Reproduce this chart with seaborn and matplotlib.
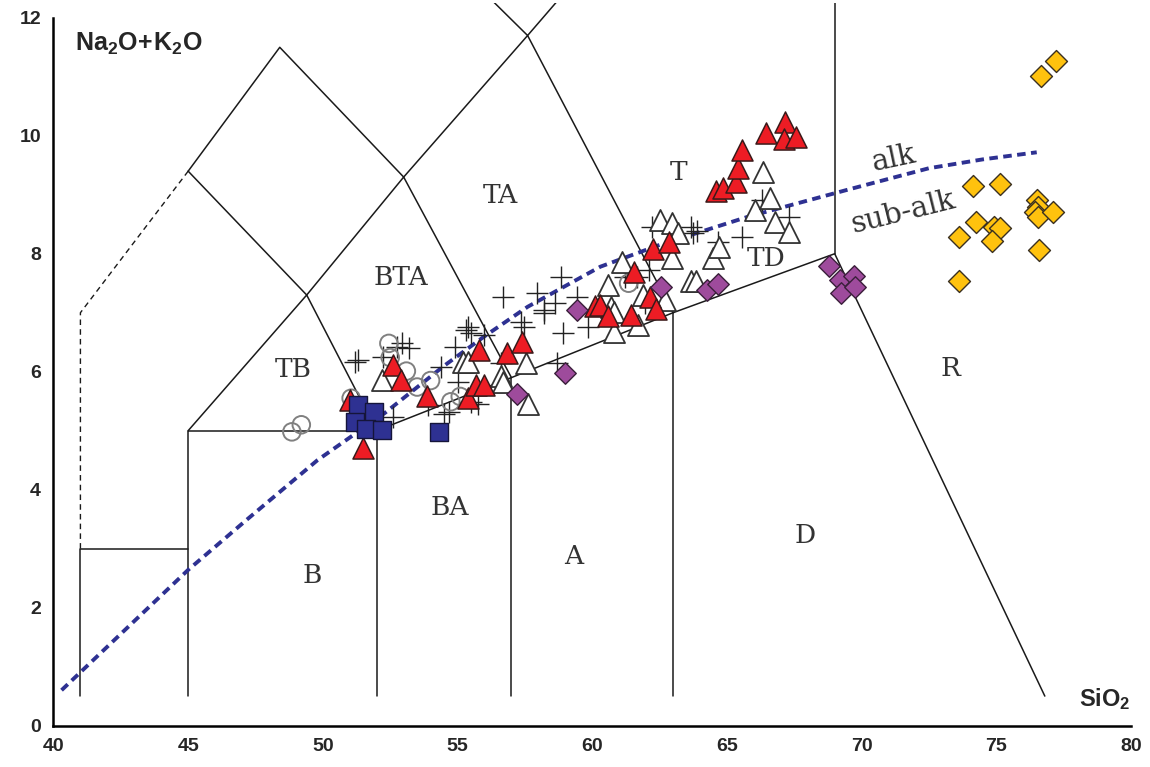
import numpy as np
import pandas as pd
import matplotlib
matplotlib.use('Agg')
import matplotlib.pyplot as plt
import seaborn as sns

# --- sample data (SiO2, Na2O+K2O) ---
red_x = [51.0, 51.5, 52.6, 52.9, 53.85, 55.4, 55.7, 56.0, 55.8, 56.85, 57.4, 60.1, 60.3, 60.6,
         61.45, 61.55, 62.15, 62.35, 62.25, 62.85, 64.6, 64.85, 65.35, 65.4, 65.55, 66.45,
         67.15, 67.1, 67.55]
red_y = [5.52, 4.70, 6.11, 5.86, 5.58, 5.55, 5.77, 5.77, 6.37, 6.31, 6.51, 7.11, 7.13, 6.94,
         6.96, 7.69, 7.27, 7.06, 8.08, 8.20, 9.07, 9.11, 9.22, 9.45, 9.76, 10.04,
         10.24, 9.94, 9.98]

open_x = [52.2, 55.2, 55.4, 56.6, 56.7, 57.55, 57.6, 61.1, 60.6, 60.7, 60.8, 60.8, 61.7, 61.9,
          62.7, 62.5, 62.95, 63.2, 62.95, 63.65, 63.85, 64.5, 64.7, 66.05, 66.6, 66.8, 67.3, 66.35]
open_y = [5.86, 6.16, 6.17, 5.92, 5.83, 6.14, 5.46, 7.86, 7.47, 7.10, 7.02, 6.68, 6.79, 7.30,
          7.22, 8.57, 8.52, 8.35, 7.92, 7.53, 7.53, 7.92, 8.12, 8.74, 8.94, 8.54, 8.37, 9.39]

cross_x = [51.2, 51.3, 52.25, 52.75, 52.95, 53.2, 52.6, 53.9, 54.4, 54.5, 54.7, 54.9, 55.0,
           55.3, 55.5, 55.5, 55.75, 56.0, 55.4, 56.6, 56.7, 57.35, 57.45, 57.95, 58.2, 58.2,
           58.6, 58.85, 59.45, 58.9, 58.7, 59.85, 61.2, 61.65, 62.1, 61.95, 62.2, 63.65, 63.75,
           63.9, 64.65, 65.55, 66.3, 67.3]
cross_y = [6.17, 6.20, 6.25, 6.42, 6.48, 6.40, 5.24, 5.44, 6.08, 5.29, 5.32, 6.42, 5.83,
           6.71, 6.65, 5.48, 5.46, 6.62, 6.76, 6.14, 7.27, 6.85, 6.76, 7.33, 7.05, 6.99,
           7.16, 7.61, 7.27, 6.65, 6.14, 6.76, 7.61, 7.61, 7.72, 7.16, 8.46, 8.46, 8.35,
           8.39, 8.20, 8.29, 8.91, 8.63]

circle_x = [48.85, 49.2, 51.05, 52.45, 52.5, 53.1, 53.5, 54.0, 54.75, 55.1, 61.35]
circle_y = [4.98, 5.10, 5.55, 6.48, 6.24, 6.01, 5.74, 5.85, 5.49, 5.58, 7.50]

square_x = [51.3, 51.9, 51.2, 51.6, 52.2, 54.3]
square_y = [5.44, 5.31, 5.14, 5.02, 5.01, 4.98]

purple_x = [57.2, 59.0, 59.45, 62.55, 64.25, 64.65, 68.8, 69.2, 69.7, 69.25, 69.75]
purple_y = [5.63, 5.98, 7.05, 7.43, 7.38, 7.49, 7.79, 7.55, 7.62, 7.33, 7.44]

yellow_x = [77.2, 76.65, 74.15, 75.15, 74.25, 73.6, 74.9, 75.15, 74.85, 76.5, 76.55, 76.45,
            76.55, 77.1, 76.6, 73.6]
yellow_y = [11.27, 11.02, 9.15, 9.18, 8.53, 8.29, 8.46, 8.43, 8.22, 8.91, 8.80, 8.71,
            8.63, 8.71, 8.06, 7.53]

# alkaline / sub-alkaline divide
alk_x = [40.3, 45.0, 47.2, 49.8, 52.3, 54.5, 56.0, 57.6, 60.3, 62.5, 65.8, 69.6, 72.5, 74.5, 76.5]
alk_y = [0.6, 2.64, 3.5, 4.5, 5.3, 6.1, 6.6, 7.1, 7.78, 8.15, 8.63, 9.1, 9.45, 9.6, 9.72]

# TAS field boundaries
solid_lines = [
    [(41, 0.5), (41, 3), (45, 3)],
    [(45, 0.5), (45, 5), (52, 5)],
    [(52, 0.5), (52, 5)],
    [(57, 0.5), (57, 5.9)],
    [(63, 0.5), (63, 7)],
    [(52, 5), (57, 5.9), (63, 7), (69, 8), (76.8, 0.5)],
    [(69, 8), (69, 13)],
    [(45, 5), (49.4, 7.3), (52, 5)],
    [(49.4, 7.3), (53, 9.3), (57, 5.9)],
    [(53, 9.3), (57.6, 11.7), (63, 7)],
    [(45, 9.4), (49.4, 7.3)],
    [(45, 9.4), (48.4, 11.5), (53, 9.3)],
    [(52.5, 14), (57.6, 11.7), (61, 13.5)],
]
dashed_line = [(41, 3), (41, 7), (45, 9.4)]

field_names = ['TB', 'BTA', 'TA', 'T', 'TD', 'B', 'BA', 'A', 'D', 'R']
field_x = [48.9, 52.9, 56.6, 63.2, 66.45, 49.6, 54.7, 59.3, 67.9, 73.3]
field_y = [6.03, 7.59, 8.98, 9.38, 7.92, 2.54, 3.69, 2.86, 3.23, 6.06]

sns.set_theme(style='white')
plt.rcParams['font.family'] = ['Liberation Sans', 'DejaVu Sans']
plt.rcParams['mathtext.fontset'] = 'custom'
plt.rcParams['mathtext.rm'] = 'Liberation Sans:bold'
plt.rcParams['mathtext.bf'] = 'Liberation Sans:bold'
serif = ['DejaVu Serif', 'Liberation Serif']

fig = plt.figure(figsize=(11.5, 7.67), dpi=100)
ax = fig.add_axes([0.0465, 0.054, 0.937, 0.942])

for seg in solid_lines:
    xs, ys = zip(*seg)
    ax.plot(xs, ys, color='#1a1a1a', lw=1.1, zorder=1)
xs, ys = zip(*dashed_line)
ax.plot(xs, ys, color='#1a1a1a', lw=1.0, ls=(0, (4, 3)), zorder=1)

sns.lineplot(x=alk_x, y=alk_y, sort=False, ax=ax, color='#2e3192', lw=2.8,
             linestyle=(0, (2.2, 1.4)), zorder=2)

sns.scatterplot(x=cross_x, y=cross_y, ax=ax, marker='+', s=270, color='#222222',
                linewidth=1.0, zorder=3)
sns.scatterplot(x=circle_x, y=circle_y, ax=ax, marker='o', s=160, facecolor='none',
                edgecolor='#808080', linewidth=1.4, zorder=3)
sns.scatterplot(x=open_x, y=open_y, ax=ax, marker='^', s=230, color='white',
                edgecolor='#333333', linewidth=1.3, zorder=4)
sns.scatterplot(x=red_x, y=red_y, ax=ax, marker='^', s=230, color='#ed1c24',
                edgecolor='#3a1a1a', linewidth=1.1, zorder=5)
sns.scatterplot(x=square_x, y=square_y, ax=ax, marker='s', s=175, color='#2e3192',
                edgecolor='#15153a', linewidth=1.0, zorder=6)
sns.scatterplot(x=purple_x, y=purple_y, ax=ax, marker='D', s=120, color='#9e4b9c',
                edgecolor='#3a1f3a', linewidth=1.0, zorder=6)
sns.scatterplot(x=yellow_x, y=yellow_y, ax=ax, marker='D', s=125, color='#ffc20e',
                edgecolor='#3a3020', linewidth=1.0, zorder=6)

for name, fx, fy in zip(field_names, field_x, field_y):
    ax.text(fx, fy, name, family=serif, fontsize=19,
            color='#333333', ha='center', va='center', zorder=7)
ax.text(71.2, 9.62, 'alk', family=serif, fontsize=21,
        color='#333333', ha='center', va='center', rotation=12, zorder=7)
ax.text(71.55, 8.71, 'sub-alk', family=serif, fontsize=21,
        color='#333333', ha='center', va='center', rotation=14, zorder=7)

ax.text(40.8, 11.55, r'$\mathrm{Na_2O\!+\!K_2O}$', fontsize=18, ha='left', va='center')
ax.text(80.0, 0.45, r'$\mathrm{SiO_2}$', fontsize=17, ha='right', va='center')

ax.set_xlim(40, 80)
ax.set_ylim(0, 12.25)
ax.spines['top'].set_visible(False)
ax.spines['right'].set_visible(False)
ax.spines['left'].set_bounds(0, 12)
for s in ['left', 'bottom']:
    ax.spines[s].set_linewidth(1.8)
    ax.spines[s].set_color('black')

ax.set_xticks(range(40, 81, 5))
ax.set_xticks(range(40, 81), minor=True)
ax.set_yticks(range(0, 13, 2))
ax.set_yticks(range(0, 13), minor=True)
ax.tick_params(which='both', direction='in', color='black', width=1.0)
ax.tick_params(which='major', length=6, labelsize=14, pad=9)
ax.tick_params(which='minor', length=5)
for lab in ax.get_xticklabels() + ax.get_yticklabels():
    lab.set_fontweight('bold')
ax.set_xlabel('')
ax.set_ylabel('')

fig.savefig('out.png', dpi=100)
